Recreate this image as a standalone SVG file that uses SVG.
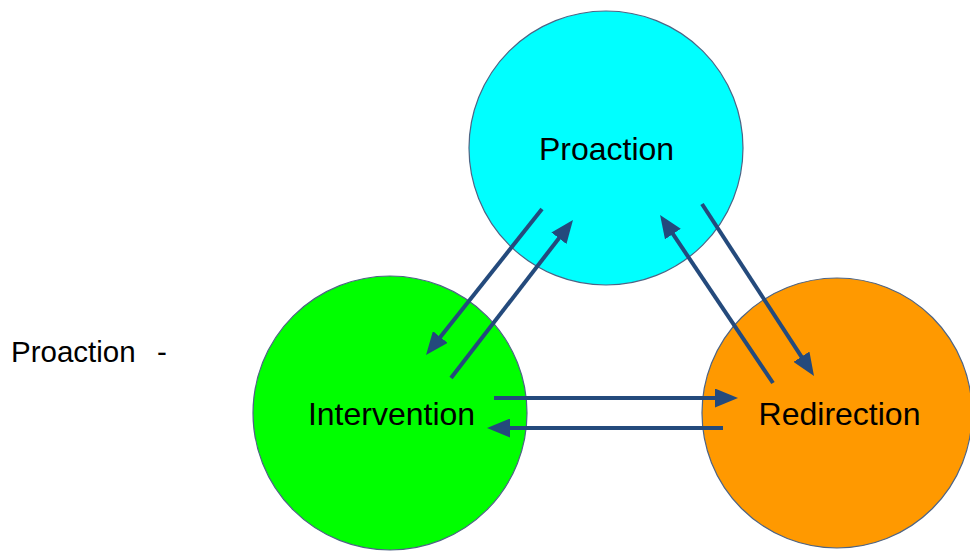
<svg xmlns="http://www.w3.org/2000/svg" width="970" height="552" viewBox="0 0 970 552">
<style>
.node{stroke:#4d6485;stroke-width:1.2}
.lbl{font-family:"Liberation Sans",Arial,sans-serif;font-size:32px;fill:#000;text-anchor:middle}
.side{font-family:"Liberation Sans",Arial,sans-serif;font-size:29.5px;fill:#000}
.arr{stroke:#244a7c;stroke-width:4;fill:none;marker-end:url(#ah)}
</style>
<defs>
<marker id="ah" viewBox="0 0 23 19" refX="7" refY="9.5" markerWidth="23" markerHeight="19" markerUnits="userSpaceOnUse" orient="auto">
<path d="M0,0 L23,9.5 L0,19 z" fill="#244a7c"/>
</marker>
</defs>
<rect width="970" height="552" fill="#fff"/>
<g id="side-label">
<text class="side" x="11" y="361.5">Proaction</text>
<text class="side" x="157" y="361.5">-</text>
</g>
<g id="proaction">
<circle class="node" cx="606" cy="148" r="137" fill="#00ffff"/>
<text class="lbl" x="606.5" y="159.5">Proaction</text>
</g>
<g id="intervention">
<circle class="node" cx="390" cy="413" r="137" fill="#00ff00"/>
<text class="lbl" x="391.5" y="425">Intervention</text>
</g>
<g id="redirection">
<circle class="node" cx="837" cy="413" r="135" fill="#ff9900"/>
<text class="lbl" x="839.5" y="424.5">Redirection</text>
</g>
<g id="connectors">
<line class="arr" x1="542" y1="209" x2="436" y2="342.5"/>
<line class="arr" x1="451" y1="378" x2="563.2" y2="232.7"/>
<line class="arr" x1="773" y1="383" x2="669" y2="228.2"/>
<line class="arr" x1="702" y1="204" x2="805.3" y2="362.6"/>
<line class="arr" x1="494" y1="398" x2="722" y2="398"/>
<line class="arr" x1="723" y1="428" x2="503" y2="428"/>
</g>
</svg>
